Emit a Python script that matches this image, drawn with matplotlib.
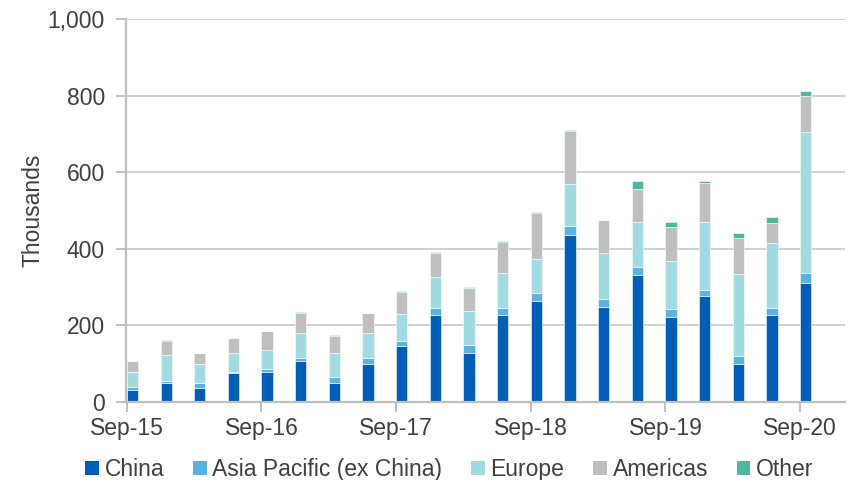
import numpy as np
import matplotlib
matplotlib.use("Agg")
from matplotlib import pyplot as plt
from matplotlib.patches import Patch

plt.rcParams['font.family'] = ['Liberation Sans', 'DejaVu Sans']

# quarterly periods, Sep-15 .. Sep-20
quarters = ["Sep-15", "Dec-15", "Mar-16", "Jun-16",
            "Sep-16", "Dec-16", "Mar-17", "Jun-17",
            "Sep-17", "Dec-17", "Mar-18", "Jun-18",
            "Sep-18", "Dec-18", "Mar-19", "Jun-19",
            "Sep-19", "Dec-19", "Mar-20", "Jun-20",
            "Sep-20"]

# thousands per region
china    = [31, 50, 37, 76, 78, 108, 50, 99, 146, 227, 128, 227, 264, 436, 248, 332, 223, 277, 99, 227, 310]
asia_pac = [9, 4, 12, 3, 7, 6, 15, 16, 14, 18, 21, 18, 21, 23, 20, 20, 19, 15, 20, 18, 26]
europe   = [38, 68, 49, 48, 50, 65, 62, 66, 70, 81, 88, 93, 89, 111, 121, 119, 125, 179, 214, 170, 370]
americas = [29, 38, 30, 40, 50, 54, 46, 51, 57, 63, 61, 80, 119, 138, 85, 84, 91, 100, 95, 52, 94]
other    = [1, 1, 1, 1, 1, 1, 2, 1, 2, 2, 2, 3, 3, 2, 1, 22, 11, 5, 12, 15, 12]

series = [
    ("China", china, "#005EB8"),
    ("Asia Pacific (ex China)", asia_pac, "#5AB3E0"),
    ("Europe", europe, "#A1DAE1"),
    ("Americas", americas, "#BDBFC1"),
    ("Other", other, "#4DB89F"),
]

text_col = "#404040"
axis_col = "#BFBFBF"

fig = plt.figure(figsize=(8.56, 4.8), dpi=100)
ax = fig.add_axes([0.147, 0.1625, 0.84, 0.798])

x = np.arange(len(quarters))
bottom = np.zeros(len(quarters))
for name, vals, col in series:
    vals = np.array(vals, dtype=float)
    ax.bar(x, vals, width=0.33, bottom=bottom, align='edge', color=col,
           edgecolor='white', linewidth=0.4, zorder=3)
    bottom += vals

ax.set_ylim(0, 1000)
ax.set_xlim(-0.03, 21.33)
ax.set_yticks(np.arange(0, 1001, 200))
ax.set_yticklabels([f"{v:,}" for v in range(0, 1001, 200)])
ax.set_xticks(x[::4])
ax.set_xticklabels(quarters[::4])

ax.yaxis.grid(True, color="#D0D0D0", linewidth=1.4, zorder=0)
for s in ["top", "right"]:
    ax.spines[s].set_visible(False)
for s in ["left", "bottom"]:
    ax.spines[s].set_color(axis_col)
    ax.spines[s].set_linewidth(1.6)
    ax.spines[s].set_zorder(4)

ax.tick_params(axis='both', colors=axis_col, length=7, width=1.4,
               labelcolor=text_col, labelsize=16.5)
ax.tick_params(axis='y', pad=8)
ax.tick_params(axis='x', pad=4)

ax.set_ylabel("Thousands", fontsize=16.5, color=text_col, labelpad=2)

handles = [Patch(facecolor=c, edgecolor='none', label=n) for n, _, c in series]
fig.legend(handles=handles, loc='lower center', bbox_to_anchor=(0.525, -0.045),
           ncol=5, frameon=False, fontsize=16.5, handlelength=0.6,
           handleheight=0.6, handletextpad=0.25, columnspacing=1.25,
           labelcolor=text_col)

fig.savefig("out.png", dpi=100)
